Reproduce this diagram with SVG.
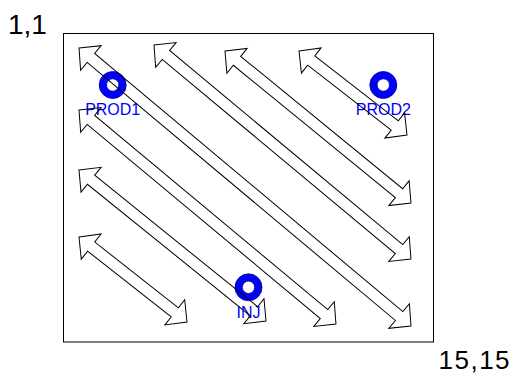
<svg xmlns="http://www.w3.org/2000/svg" width="517" height="374" viewBox="0 0 517 374">
  <style>
    .frame { fill: #ffffff; stroke: #000000; stroke-width: 1; }
    .corner { font-family: "Liberation Sans", Arial, sans-serif; fill: #000000; }
    .ring { fill: #0000ff; stroke: #000080; stroke-width: 0.8; }
    .hole { fill: #ffffff; stroke: #000080; stroke-width: 0.8; }
    .wlabel { font-family: "Liberation Sans", Arial, sans-serif; font-size: 16px; fill: #0000ff; text-anchor: middle; }
    .arrow { fill: none; stroke: #000000; stroke-width: 1; stroke-linejoin: miter; }
  </style>
  <rect width="517" height="374" fill="#ffffff"/>
  <rect class="frame" x="63.5" y="33.5" width="370" height="308.5"/>
  <text class="corner" x="8" y="34" font-size="28">1,1</text>
  <text class="corner" x="438.5" y="369" font-size="26" letter-spacing="1.5">15,15</text>

  <g id="PROD1">
    <circle class="ring" cx="112.7" cy="85" r="13.5"/>
    <circle class="hole" cx="112.7" cy="85" r="6.2"/>
    <text class="wlabel" x="112.7" y="115">PROD1</text>
  </g>
  <g id="PROD2">
    <circle class="ring" cx="383.3" cy="85" r="13.5"/>
    <circle class="hole" cx="383.3" cy="85" r="6.2"/>
    <text class="wlabel" x="383.3" y="115">PROD2</text>
  </g>
  <g id="INJ">
    <circle class="ring" cx="248.5" cy="287.3" r="13.5"/>
    <circle class="hole" cx="248.5" cy="287.3" r="6.2"/>
    <text class="wlabel" x="248.5" y="318">INJ</text>
  </g>

  <g id="connectors">
    <polygon class="arrow" transform="translate(79,48) rotate(39.94)" points="0,0 15.5,-16 15.5,-5.8 417.5,-5.8 417.5,-16 433,0 417.5,16 417.5,5.8 15.5,5.8 15.5,16"/>
    <polygon class="arrow" transform="translate(154,45) rotate(39.79)" points="0,0 15.5,-16 15.5,-5.8 318.9,-5.8 318.9,-16 334.4,0 318.9,16 318.9,5.8 15.5,5.8 15.5,16"/>
    <polygon class="arrow" transform="translate(225,51) rotate(39.26)" points="0,0 15.5,-16 15.5,-5.8 224.7,-5.8 224.7,-16 240.2,0 224.7,16 224.7,5.8 15.5,5.8 15.5,16"/>
    <polygon class="arrow" transform="translate(299,51) rotate(37.87)" points="0,0 15.5,-16 15.5,-5.8 121.3,-5.8 121.3,-16 136.8,0 121.3,16 121.3,5.8 15.5,5.8 15.5,16"/>
    <polygon class="arrow" transform="translate(79,110) rotate(39.79)" points="0,0 15.5,-16 15.5,-5.8 318.9,-5.8 318.9,-16 334.4,0 318.9,16 318.9,5.8 15.5,5.8 15.5,16"/>
    <polygon class="arrow" transform="translate(79,170) rotate(38.92)" points="0,0 15.5,-16 15.5,-5.8 224.85,-5.8 224.85,-16 240.35,0 224.85,16 224.85,5.8 15.5,5.8 15.5,16"/>
    <polygon class="arrow" transform="translate(79,237) rotate(38.2)" points="0,0 15.5,-16 15.5,-5.8 121.9,-5.8 121.9,-16 137.4,0 121.9,16 121.9,5.8 15.5,5.8 15.5,16"/>
  </g>
</svg>
